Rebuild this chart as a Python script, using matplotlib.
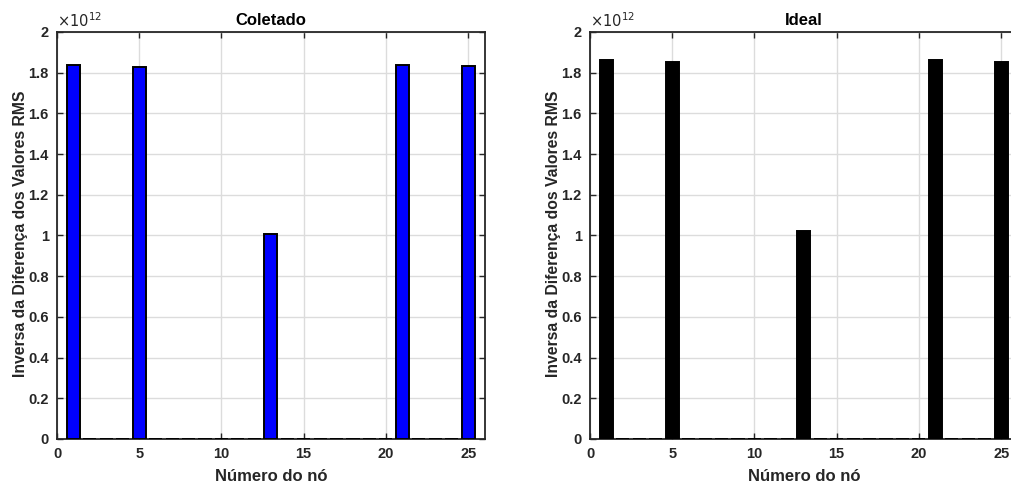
import numpy as np
import matplotlib.pyplot as plt
from matplotlib.ticker import FuncFormatter, MultipleLocator

plt.rcParams['font.family'] = ['Liberation Sans', 'DejaVu Sans']

# número do nó 1..25
nodes = np.arange(1, 26)
# valores (x1e12)
coletado = np.zeros(25)
coletado[[0, 4, 12, 20, 24]] = [1.838e12, 1.830e12, 1.007e12, 1.838e12, 1.834e12]
ideal = np.zeros(25)
ideal[[0, 4, 12, 20, 24]] = [1.860e12, 1.852e12, 1.020e12, 1.860e12, 1.855e12]

titles = ['Coletado', 'Ideal']
colors = ['#0000ff', '#000000']
series = [coletado, ideal]

fig = plt.figure(figsize=(10.11, 4.87), dpi=100)
axc = '#262626'
positions = [[0.0564, 0.0986, 0.4229, 0.8357], [0.5836, 0.0986, 0.4229, 0.8357]]

for pos, vals, title, col in zip(positions, series, titles, colors):
    ax = fig.add_axes(pos)
    ax.bar(nodes, vals, width=0.8, color=col, edgecolor='black', linewidth=1.4, zorder=3)
    ax.set_xlim(0, 26)
    ax.set_ylim(0, 2e12)
    ax.xaxis.set_major_locator(MultipleLocator(5))
    ax.yaxis.set_major_locator(MultipleLocator(0.2e12))
    ax.yaxis.set_major_formatter(FuncFormatter(lambda v, p: '%g' % round(v / 1e12, 1)))
    ax.grid(True, color='#dcdcdc', linewidth=1.0, zorder=0)
    ax.set_axisbelow(True)
    ax.tick_params(direction='in', top=True, right=True, length=4, width=1,
                   colors=axc, labelsize=10.5, pad=6)
    for lab in ax.get_xticklabels() + ax.get_yticklabels():
        lab.set_fontweight('bold')
    for s in ax.spines.values():
        s.set_color(axc)
        s.set_linewidth(1.3)
    ax.set_title(title, fontsize=12, fontweight='bold', color='black', pad=5)
    ax.set_xlabel('Número do nó', fontsize=12, fontweight='bold', color=axc)
    ax.xaxis.set_label_coords(0.5, -0.074)
    ax.set_ylabel('Inversa da Diferença dos Valores RMS', fontsize=11.3, fontweight='bold',
                  color=axc)
    ax.yaxis.set_label_coords(-0.068, 0.505)
    ax.text(0.0, 1.005, r'$\times10^{12}$', transform=ax.transAxes, fontsize=10.5,
            color=axc, ha='left', va='bottom')

fig.savefig('out.png', dpi=100)
